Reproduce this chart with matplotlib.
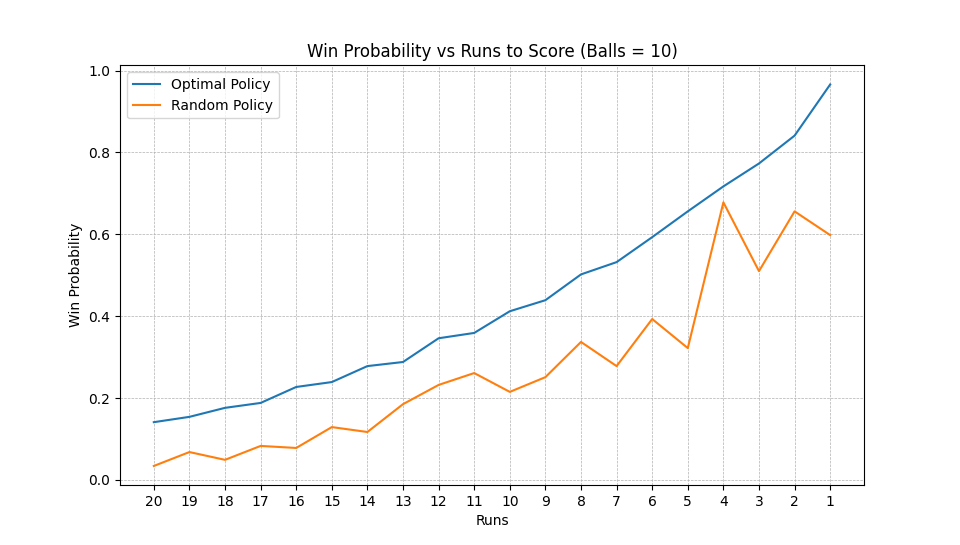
import matplotlib
matplotlib.use("Agg")
import matplotlib.pyplot as plt

runs = list(range(20, 0, -1))
optimal = [0.141, 0.154, 0.176, 0.188, 0.227, 0.239, 0.278, 0.288, 0.346, 0.359,
           0.412, 0.439, 0.502, 0.532, 0.593, 0.656, 0.717, 0.773, 0.841, 0.966]
random_p = [0.034, 0.068, 0.049, 0.083, 0.078, 0.129, 0.117, 0.185, 0.232, 0.261,
            0.215, 0.251, 0.337, 0.278, 0.393, 0.322, 0.678, 0.510, 0.656, 0.598]

fig, ax = plt.subplots(figsize=(9.6, 5.45), dpi=100)
x = list(range(len(runs)))
ax.plot(x, optimal, label="Optimal Policy")
ax.plot(x, random_p, label="Random Policy")
ax.set_xticks(x)
ax.set_xticklabels([str(r) for r in runs])
ax.set_title("Win Probability vs Runs to Score (Balls = 10)")
ax.set_xlabel("Runs")
ax.set_ylabel("Win Probability")
ax.grid(True, linestyle="--", linewidth=0.5)
ax.legend(loc="upper left")
fig.savefig("out.png")
